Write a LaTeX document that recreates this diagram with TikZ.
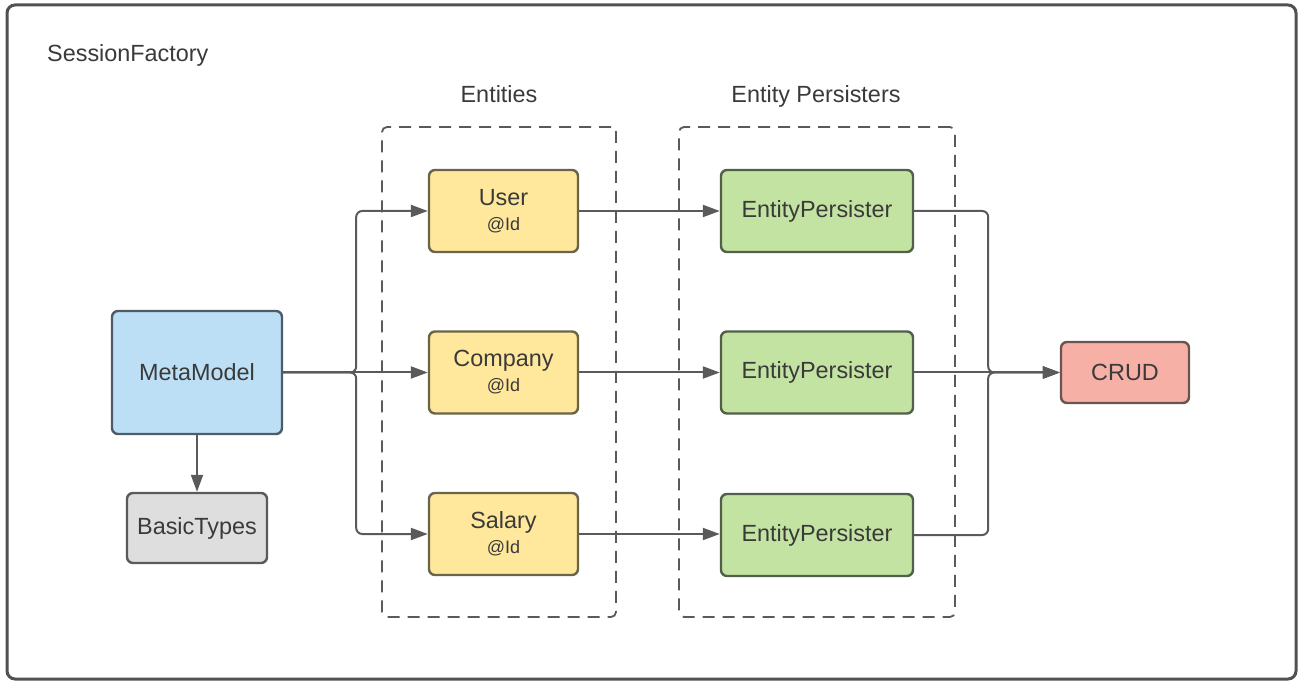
\documentclass[tikz,border=0pt]{standalone}
\usepackage{fontspec}
\setmainfont{Liberation Sans}
\usetikzlibrary{arrows.meta}
\definecolor{txt}{HTML}{3A3A3A}
\definecolor{edge}{HTML}{5A5A5A}
\definecolor{entfill}{HTML}{FFE89C}
\definecolor{entline}{HTML}{6A6448}
\definecolor{epfill}{HTML}{C3E3A2}
\definecolor{epline}{HTML}{52604A}
\definecolor{mmfill}{HTML}{BCDFF5}
\definecolor{mmline}{HTML}{4E5C68}
\definecolor{btfill}{HTML}{DEDEDE}
\definecolor{btline}{HTML}{5A5A5A}
\definecolor{crfill}{HTML}{F7B0A5}
\definecolor{crline}{HTML}{6A5450}
\newcommand\idsize{\fontsize{18}{21}\selectfont}
\begin{document}
\begin{tikzpicture}[x=1pt,y=-1pt,
  every node/.style={text=txt,font=\fontsize{23.4}{27}\selectfont},
  box/.style={draw,line width=2.4pt,rounded corners=6pt,inner sep=0pt,align=center},
  entity/.style={box,fill=entfill,draw=entline,minimum width=149pt,minimum height=82pt},
  persister/.style={box,fill=epfill,draw=epline,minimum width=192pt,minimum height=82pt},
  group/.style={draw=edge,line width=1.8pt,dash pattern=on 12pt off 8pt,rounded corners=5pt,inner sep=0pt},
  title/.style={anchor=base,inner sep=0pt},
  link/.style={draw=edge,line width=2pt,rounded corners=6pt,-{Triangle[length=17pt,width=12pt]}}
]
\useasboundingbox (0,0) rectangle (1302,684);
\fill[white] (0,0) rectangle (1302,684);

% outer frame
\node[draw=edge!90!black,line width=3pt,rounded corners=8pt,minimum width=1289pt,minimum height=674pt,inner sep=0pt] (frame) at (651.5,342) {};
\node[title,anchor=base west] (sf) at (47,62) {SessionFactory};

% group frames and titles
\node[group,minimum width=234pt,minimum height=490pt] (entgrp) at (499,372) {};
\node[group,minimum width=276pt,minimum height=490pt] (epgrp) at (817,372) {};
\node[title] (entlbl) at (499,103) {Entities};
\node[title] (eplbl) at (816,103) {Entity Persisters};

% entities
\node[entity] (user) at (503.5,211) {User\\[-2pt]{\idsize @Id}};
\node[entity] (company) at (503.5,372.5) {Company\\[-2pt]{\idsize @Id}};
\node[entity] (salary) at (503.5,534) {Salary\\[-2pt]{\idsize @Id}};

% persisters
\node[persister] (ep1) at (817,211) {EntityPersister};
\node[persister] (ep2) at (817,372.5) {EntityPersister};
\node[persister] (ep3) at (817,535) {EntityPersister};

% model side
\node[box,fill=mmfill,draw=mmline,minimum width=170pt,minimum height=123pt] (mm) at (197,372.5) {MetaModel};
\node[box,fill=btfill,draw=btline,minimum width=140pt,minimum height=70pt] (bt) at (197,528) {BasicTypes};
\node[box,fill=crfill,draw=crline,minimum width=128pt,minimum height=61pt] (crud) at (1125,372.5) {CRUD};

% connectors
\draw[link] (mm.south) -- (bt.north);
\draw[link] (mm.east) -- ++(73,0) |- (user.west);
\draw[link] (mm.east) -- (mm.east -| company.west);
\draw[link] (mm.east) -- ++(73,0) |- (salary.west);

\draw[link] (user.east) -- (ep1.west);
\draw[link] (company.east) -- (company.east -| ep2.west);
\draw[link] (salary.east) -- (salary.east -| ep3.west);

\draw[link] (ep1.east) -- ++(74,0) |- (crud.west);
\draw[link] (ep2.east) -- (ep2.east -| crud.west);
\draw[link] (ep3.east) -- ++(74,0) |- (crud.west);
\end{tikzpicture}
\end{document}
